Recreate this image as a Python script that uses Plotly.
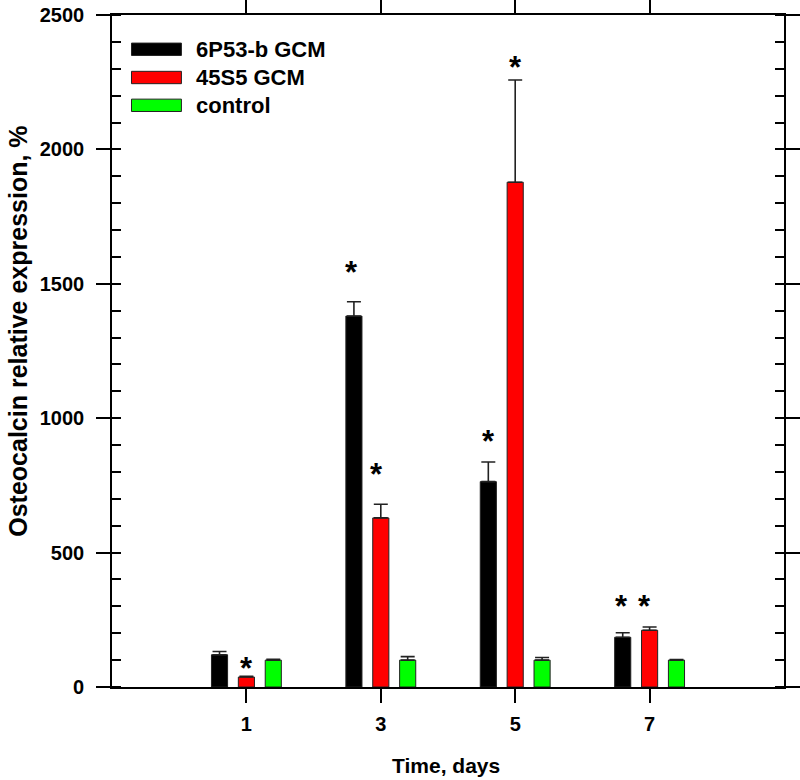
import plotly.graph_objects as go

# ---- data ----
days = [1, 3, 5, 7]
series_names = ["6P53-b GCM", "45S5 GCM", "control"]
gcm6p53 = [120, 1380, 764, 185]
gcm6p53_err = [12, 53, 73, 17]
gcm45s5 = [37, 629, 1878, 211]
gcm45s5_err = [3, 51, 380, 12]
control = [100, 100, 100, 100]
control_err = [3, 13, 10, 2]
colors = ["#000000", "#ff0000", "#00ff00"]

# significance asterisks (x in days, y in %)
star_x = [1.0, 2.563, 2.931, 4.603, 5.005, 6.578, 6.925]
star_y = [96, 1569, 817, 940, 2331, 326, 326]

y_ticks = [0, 500, 1000, 1500, 2000, 2500]

FONT = "Liberation Sans, Arial, sans-serif"

fig = go.Figure()
for name, vals, errs, col in zip(series_names,
                                 [gcm6p53, gcm45s5, control],
                                 [gcm6p53_err, gcm45s5_err, control_err],
                                 colors):
    fig.add_trace(go.Bar(
        x=days, y=vals, name=name,
        marker=dict(color=col, line=dict(color="#222222", width=1)),
        error_y=dict(type="data", array=errs, arrayminus=[0] * len(errs),
                     symmetric=False, color="#222222", thickness=1.6, width=7),
        showlegend=False,
    ))

for sx, sy in zip(star_x, star_y):
    fig.add_annotation(x=sx, y=sy, text="*", showarrow=False,
                       xref="x", yref="y", yshift=-7,
                       font=dict(family=FONT, size=31, color="black", weight="bold"))

# manual legend (wide swatches as in the reference)
leg_y = [0.949, 0.907, 0.8656]
for name, col, ly in zip(series_names, colors, leg_y):
    fig.add_shape(type="rect", xref="paper", yref="paper",
                  x0=0.029, x1=0.1033, y0=ly - 0.0092, y1=ly + 0.0092,
                  fillcolor=col, line=dict(color="#222222", width=1))
    fig.add_annotation(x=0.1216, y=ly, xref="paper", yref="paper",
                       text=name, showarrow=False, xanchor="left", yanchor="middle",
                       font=dict(family=FONT, size=22, color="black", weight="bold"))

# axis titles
fig.add_annotation(x=0.497, y=-0.117, xref="paper", yref="paper",
                   text="Time, days", showarrow=False,
                   xanchor="center", yanchor="middle",
                   font=dict(family=FONT, size=21, color="black", weight="bold"))
fig.add_annotation(x=-0.14, y=0.53, xref="paper", yref="paper",
                   text="Osteocalcin relative expression, %", showarrow=False,
                   textangle=-90, xanchor="center", yanchor="middle",
                   font=dict(family=FONT, size=25, color="black", weight="bold"))

fig.update_layout(
    width=800, height=780,
    margin=dict(l=112, r=16, t=15, b=93),
    paper_bgcolor="white", plot_bgcolor="white",
    barmode="group", bargap=0.4, bargroupgap=0.4,
    font=dict(family=FONT, color="black"),
)

fig.update_xaxes(
    range=[-1, 9], tickmode="array", tickvals=days, ticktext=[str(d) for d in days],
    showline=True, linecolor="black", linewidth=1.6, mirror="ticks",
    ticks="outside", ticklen=14, tickwidth=2, tickcolor="black",
    showgrid=False, zeroline=False, automargin=False,
    tickfont=dict(family=FONT, size=20, color="black", weight="bold"),
    ticklabelstandoff=4,
)
fig.update_yaxes(
    range=[0, 2500], tickmode="array", tickvals=y_ticks,
    showline=True, linecolor="black", linewidth=1.6, mirror="ticks",
    ticks="outside", ticklen=14, tickwidth=2, tickcolor="black",
    minor=dict(dtick=100, ticks="inside", ticklen=9, tickwidth=1.5, tickcolor="black"),
    showgrid=False, zeroline=False, automargin=False,
    tickfont=dict(family=FONT, size=20, color="black", weight="bold"),
    ticklabelstandoff=8,
)

# remove the default 8 px page margin so the figure sits at the window's corner
fig.write_html("out.html",
               config={"displayModeBar": False},
               post_script="document.body.style.margin='0';document.body.style.padding='0';")
